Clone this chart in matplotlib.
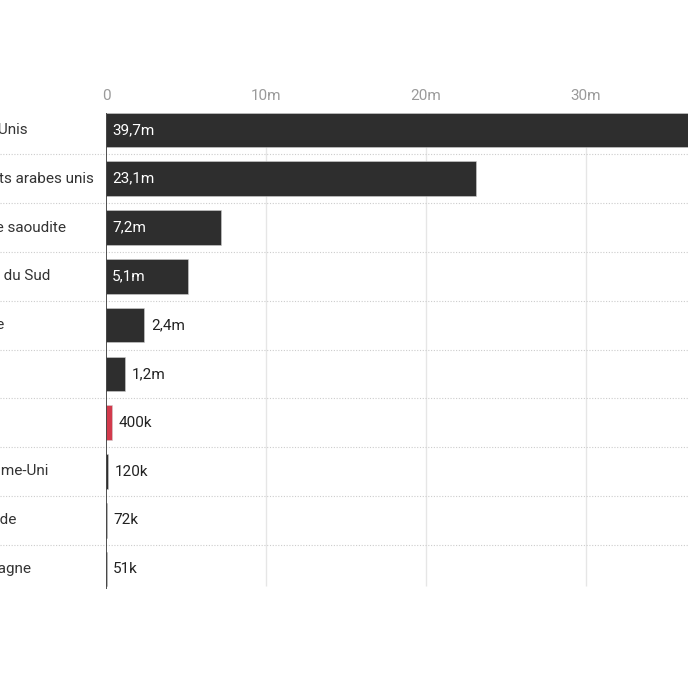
import matplotlib.pyplot as plt
import matplotlib.transforms as mtransforms

countries = ["États-Unis", "Émirats arabes unis", "Arabie saoudite", "Corée du Sud",
             "Russie", "Qatar", "Liban", "Royaume-Uni", "Finlande", "Allemagne"]
values = [39.7, 23.1, 7.2, 5.1, 2.4, 1.2, 0.4, 0.12, 0.072, 0.051]
value_labels = ["39,7m", "23,1m", "7,2m", "5,1m", "2,4m", "1,2m", "400k", "120k", "72k", "51k"]
highlight = "Liban"
ticks = [0, 10, 20, 30, 40]
tick_labels = ["0", "10m", "20m", "30m", "40m"]

plt.rcParams["font.family"] = ["Roboto", "DejaVu Sans"]

W = 688
fig = plt.figure(figsize=(6.88, 6.88), dpi=100)
# axes runs past the right edge, like the cropped original
ax = fig.add_axes([106 / W, 1 - 593.5 / W, 640 / W, (593.5 - 105.5) / W])
ax.set_xlim(0, 40)
ax.set_ylim(len(countries) - 0.5, -0.5)

rows = list(range(len(countries)))
colors = ["#d23a4c" if c == highlight else "#2e2e2e" for c in countries]
ax.barh(rows, values, height=0.71, color=colors, edgecolor="#cfcfcf", linewidth=0.4, zorder=3)

# grid lines only between first and last bar
ax.vlines(ticks[1:], -0.35, len(countries) - 0.65, color="#e6e6e6", linewidth=1, zorder=1)
ax.vlines(0, -0.35, len(countries) - 0.6, color="#333333", linewidth=1.2, zorder=4)

fig_x = mtransforms.blended_transform_factory(fig.transFigure, ax.transData)
for i in rows[:-1]:
    ax.plot([0, 1], [i + 0.5, i + 0.5], transform=fig_x, color="#cccccc",
            linestyle=(0, (1, 1.5)), linewidth=0.8, clip_on=False, zorder=2)

for i, (c, v, lab) in enumerate(zip(countries, values, value_labels)):
    ax.text(-40 / W, i, c, transform=fig_x, ha="left", va="center",
            fontsize=11, color="#333333", clip_on=False)
    if v > 4:
        ax.text(0.38, i, lab, ha="left", va="center", fontsize=11, color="white", zorder=5)
    else:
        ax.text(v + 0.4, i, lab, ha="left", va="center", fontsize=11, color="#222222", zorder=5)

ax.xaxis.tick_top()
ax.set_xticks(ticks)
ax.set_xticklabels(tick_labels)
ax.tick_params(axis="x", length=0, pad=1.5, labelsize=11, labelcolor="#9a9a9a")
ax.set_yticks([])
for s in ax.spines.values():
    s.set_visible(False)

fig.savefig("out.png", dpi=100)
